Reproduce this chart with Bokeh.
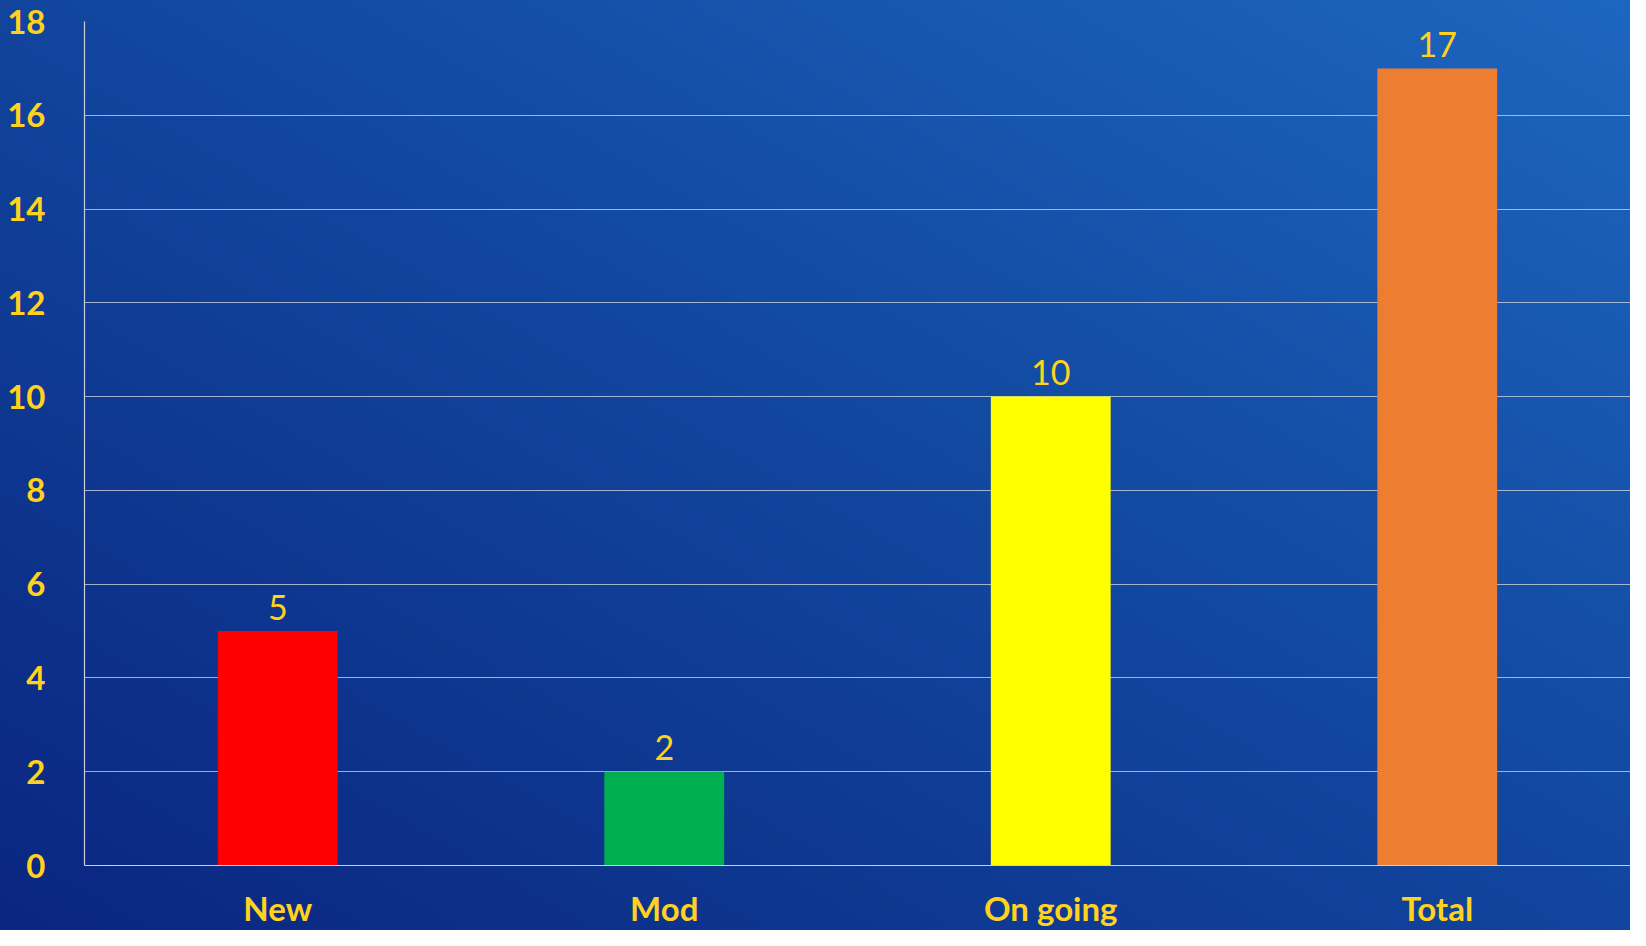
from bokeh.plotting import figure
from bokeh.models import ColumnDataSource, Range1d, FixedTicker
from bokeh.embed import file_html
from bokeh.resources import INLINE
from bokeh.core.properties import value

categories = ["New", "Mod", "On going", "Total"]
counts = [5, 2, 10, 17]
colors = ["#FF0000", "#00B050", "#FFFF00", "#ED7D31"]
y_ticks = [0, 2, 4, 6, 8, 10, 12, 14, 16, 18]

TEXT = "#FFD21F"
FONT = "Lato"

src = ColumnDataSource(dict(cat=categories, val=counts, color=colors,
                            label=[str(v) for v in counts]))

p = figure(x_range=categories, y_range=Range1d(0, 18), width=1630, height=930,
           output_backend="svg", toolbar_location=None,
           min_border_left=84, min_border_right=0, min_border_top=21, min_border_bottom=60)
p.styles = {"background-image": "linear-gradient(to top right, #0a2580 0%, #1248a0 55%, #1d66bf 100%)"}
p.background_fill_alpha = 0
p.border_fill_alpha = 0
p.outline_line_color = None

p.vbar(x="cat", top="val", width=0.31, color="color", source=src, line_color=None)
p.text(x="cat", y="val", text="label", source=src, text_align="center",
       text_baseline="alphabetic", y_offset=-24, text_color=TEXT,
       text_font=value(FONT), text_font_size="34px")

p.yaxis.ticker = FixedTicker(ticks=y_ticks)
for ax in (p.xaxis, p.yaxis):
    ax.axis_line_color = "#c8cfdc"
    ax.axis_line_width = 1.2
    ax.major_tick_line_color = None
    ax.minor_tick_line_color = None
    ax.major_label_text_color = TEXT
    ax.major_label_text_font = FONT
    ax.major_label_text_font_style = "bold"
p.yaxis.major_label_text_font_size = "33px"
p.xaxis.major_label_text_font_size = "33px"
p.yaxis.major_label_standoff = 33
p.xaxis.major_label_standoff = 16

p.xgrid.grid_line_color = None
p.ygrid.grid_line_color = "#c8cfdc"
p.ygrid.grid_line_alpha = 0.8
p.ygrid.grid_line_width = 1.2

open("out.html", "w").write(file_html(p, INLINE))
